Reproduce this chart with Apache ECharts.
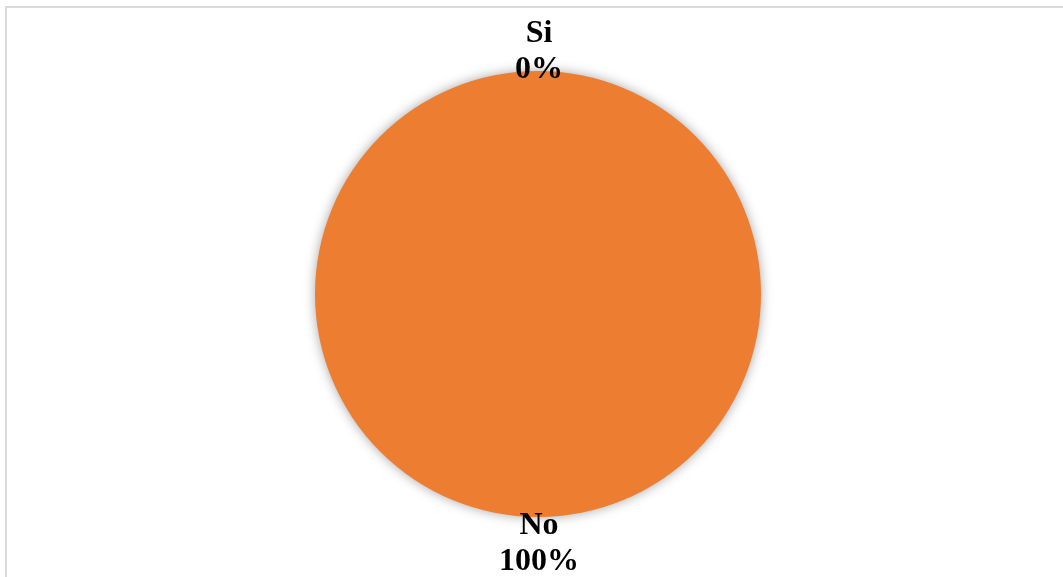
<!DOCTYPE html>
<html>
<head>
<meta charset="utf-8">
<style>html,body{margin:0;padding:0;background:#fff;}#c{width:1063px;height:577px;}</style>
<script src="https://cdn.jsdelivr.net/npm/echarts@6/dist/echarts.min.js"></script>
</head>
<body>
<div id="c"></div>
<script>
const categories = ['Si', 'No'];
const values = [0, 100];
const colors = ['#5B9BD5', '#ED7D31'];

const chart = echarts.init(document.getElementById('c'), null, {renderer: 'canvas'});
chart.setOption({
  backgroundColor: '#ffffff',
  animation: false,
  graphic: [{
    type: 'rect',
    shape: {x: 6, y: 7, width: 1100, height: 620},
    style: {fill: 'none', stroke: '#d9d9d9', lineWidth: 2},
    silent: true
  }],
  series: [{
    type: 'pie',
    center: [538, 294],
    radius: 223,
    startAngle: 90,
    clockwise: true,
    avoidLabelOverlap: false,
    data: categories.map((c, i) => ({name: c, value: values[i], itemStyle: {color: colors[i]}})),
    itemStyle: {shadowBlur: 12, shadowColor: 'rgba(0,0,0,0.35)', shadowOffsetX: 0, shadowOffsetY: 0},
    label: {
      show: true,
      position: 'outside',
      formatter: '{b}\n{d}%',
      fontFamily: 'Liberation Serif',
      fontWeight: 'bold',
      fontSize: 32,
      lineHeight: 36,
      color: '#000'
    },
    labelLine: {show: false, length: 23, length2: 0},
    labelLayout: function () {
      return {align: 'center', verticalAlign: 'middle', dx: 6, dy: 4};
    },
    emphasis: {disabled: true}
  }]
});
</script>
</body>
</html>
